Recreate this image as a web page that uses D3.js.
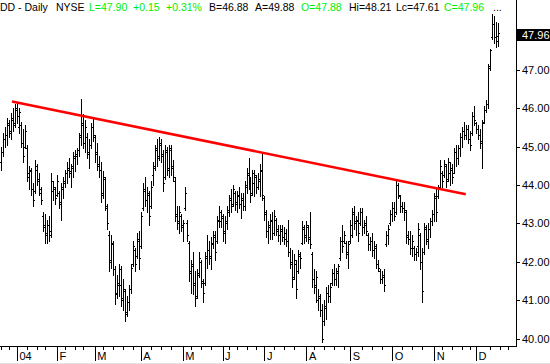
<!DOCTYPE html>
<html><head><meta charset="utf-8">
<script src="https://cdn.jsdelivr.net/npm/d3@7"></script>
<style>body{margin:0;background:#fff}svg{display:block}</style>
</head><body>
<svg id="c" width="550" height="364"></svg>
<script>
// ---- data (DD daily, Dec 19 2003 .. Dec 16 2004) ----
const open=[44.60,44.85,45.20,45.30,45.55,45.40,45.70,45.60,45.95,
45.50,45.55,45.10,45.00,44.95,44.20,44.35,43.90,43.85,44.40,
44.10,43.80,43.20,42.90,42.75,42.95,42.80,
43.85,43.90,
43.75,43.80,43.50,43.90,44.05,44.30,44.40,44.30,44.45,44.70,
44.75,44.90,45.30,45.55,45.10,
45.25,44.80,45.05,45.50,
45.25,44.85,44.50,44.40,43.80,44.15,43.40,42.70,42.05,42.45,
41.80,41.20,41.40,
41.40,41.00,41.25,40.70,40.95,41.30,
41.95,42.30,42.15,42.55,42.40,43.40,43.85,43.60,43.75,43.45,
44.25,44.50,44.90,44.75,45.05,44.75,44.20,44.85,44.45,
44.90,44.45,44.10,43.20,43.00,43.20,42.90,43.40,
43.00,
42.50,41.75,41.90,41.45,41.10,41.70,42.00,41.45,41.45,42.10,
42.30,42.10,42.45,42.65,42.55,43.05,
43.05,43.15,42.80,
43.00,43.30,43.60,43.50,43.80,43.50,43.70,43.50,43.60,43.45,
43.95,44.25,44.10,43.80,
44.05,44.20,43.95,44.10,44.35,
43.65,43.25,42.80,42.90,43.05,42.75,43.10,42.80,42.70,42.80,
42.65,
42.60,42.55,42.25,41.95,41.60,41.95,41.75,42.15,
42.50,42.85,42.70,42.90,42.65,42.20,41.55,41.35,
41.00,
41.05,40.75,40.45,40.80,41.20,41.10,41.45,41.70,41.55,41.70,
42.10,42.55,42.55,42.50,42.20,42.55,
42.70,43.25,43.05,
43.05,43.00,43.30,42.90,42.95,42.70,42.45,42.55,42.30,42.35,
41.95,41.75,41.55,41.60,
42.45,42.70,43.00,43.25,43.40,
43.30,44.00,43.70,43.45,43.40,43.30,42.70,42.60,42.35,42.35,
42.20,
42.40,42.70,42.00,42.25,42.85,42.55,42.85,43.05,
43.25,43.65,43.70,43.95,44.30,44.25,44.50,44.15,
44.30,
44.40,44.30,44.85,44.70,44.95,45.25,45.40,45.30,45.45,45.20,
45.35,45.80,
45.60,45.45,45.30,45.10,45.65,45.95,46.10,
47.10,47.85,48.20,47.85,47.88];
const high=[44.98,45.35,45.50,45.75,45.70,45.88,46.00,46.10,46.15,
46.00,45.65,45.45,45.55,45.05,44.50,44.45,44.05,44.65,44.55,
44.30,43.95,43.30,43.25,43.10,43.20,44.30,
44.10,43.95,
44.25,43.85,44.05,44.20,44.40,44.60,44.70,44.55,44.85,44.90,
44.95,45.35,46.25,45.85,45.70,
45.35,45.20,45.60,45.75,
45.30,45.10,44.75,44.60,44.35,44.20,43.50,42.80,42.70,42.55,
41.90,41.65,41.95,
41.90,41.55,41.30,41.10,41.40,41.95,
42.55,42.35,42.75,42.80,43.30,44.05,44.20,43.95,43.85,44.10,
44.60,45.05,45.20,45.25,45.20,44.90,45.05,45.00,45.05,
45.05,44.65,44.20,43.45,43.45,43.25,43.10,43.95,
43.10,
42.55,42.05,42.25,41.75,41.80,42.25,42.05,41.55,42.25,42.70,
42.55,42.65,42.80,42.80,43.20,43.45,
43.35,43.25,43.20,
43.45,43.75,43.90,44.00,43.85,43.85,43.95,43.80,43.80,44.10,
44.45,44.70,44.20,44.40,
44.40,44.25,44.30,44.55,44.80,
43.70,43.35,43.05,43.25,43.30,43.35,43.15,42.95,42.95,42.95,
42.90,
42.85,43.10,42.35,42.30,42.20,42.05,42.30,42.25,
43.05,42.95,43.05,42.95,43.30,42.25,41.80,41.75,
41.30,
41.15,40.90,41.00,41.35,41.40,41.45,41.80,41.95,41.85,41.95,
42.65,42.95,42.80,42.55,42.55,43.10,
43.40,43.45,43.20,
43.30,43.40,43.40,43.10,43.20,42.75,42.65,42.75,42.55,42.45,
42.05,41.80,41.75,41.80,
42.80,42.95,43.35,43.55,43.55,
44.10,44.05,43.75,43.55,43.55,43.35,42.80,42.80,42.70,42.40,
42.35,
43.00,42.75,42.35,43.00,42.95,43.00,43.15,43.35,
43.80,43.95,44.00,44.65,44.35,44.65,44.55,44.70,
44.60,
44.55,44.95,45.05,45.05,45.35,45.50,45.65,45.55,45.55,45.40,
45.90,46.05,
45.65,45.55,45.45,45.70,46.05,46.20,47.15,
47.55,48.45,48.40,48.25,48.21];
const low=[44.40,44.75,45.00,45.05,45.25,45.20,45.40,45.50,45.60,
45.35,45.00,44.60,44.95,44.10,43.90,43.75,43.45,43.80,44.00,
43.75,43.50,42.80,42.50,42.50,42.55,42.65,
43.60,43.50,
43.70,43.40,43.10,43.65,43.95,44.05,44.20,43.95,44.20,44.35,
44.55,44.75,45.05,44.95,44.85,
44.70,44.45,44.95,45.15,
44.60,44.40,44.20,43.55,43.65,43.35,42.85,41.75,41.85,41.65,
40.90,41.05,41.10,
40.85,40.75,40.45,40.60,40.75,41.20,
41.90,41.75,42.10,41.80,42.35,43.35,43.45,43.30,42.95,43.40,
44.00,44.40,44.50,44.65,44.60,43.85,44.15,44.25,44.20,
44.25,44.10,43.05,42.85,42.75,42.80,42.55,43.35,
42.55,
41.50,41.20,41.15,40.85,41.05,41.60,41.35,40.95,41.40,41.85,
41.95,41.80,42.35,42.05,42.50,42.90,
42.90,42.55,42.50,
42.85,43.20,43.30,43.45,43.35,43.30,43.40,43.15,43.35,43.35,
43.80,43.90,43.55,43.75,
43.70,43.80,43.90,43.70,43.60,
43.10,42.65,42.50,42.60,42.60,42.70,42.70,42.55,42.45,42.55,
42.45,
42.40,42.15,41.85,41.35,41.55,41.05,41.70,41.85,
42.45,42.50,42.55,42.50,42.35,41.35,41.20,40.95,
40.75,
40.60,39.90,40.35,40.50,40.95,40.95,41.40,41.40,41.40,41.35,
42.05,42.25,42.50,42.10,41.85,42.50,
42.65,42.85,42.70,
42.55,42.95,42.70,42.75,42.70,42.30,42.30,42.15,42.10,41.85,
41.75,41.45,41.45,41.25,
42.40,42.45,42.95,43.05,43.10,
43.25,43.65,43.30,43.30,43.10,42.50,42.45,42.20,42.15,42.05,
42.05,
42.15,41.80,40.95,42.20,42.45,42.35,42.65,42.95,
43.05,43.05,43.65,43.90,43.95,44.20,43.95,44.10,
44.00,
44.05,44.30,44.50,44.55,44.75,45.00,45.20,45.20,45.10,44.90,
45.30,45.55,
45.35,45.20,44.95,44.45,45.60,45.90,46.00,
47.00,47.80,47.70,47.60,47.61];
const close=[44.85,45.20,45.30,45.60,45.35,45.75,45.55,46.00,45.80,
45.90,45.10,44.75,45.40,44.30,44.40,43.90,43.60,44.50,44.15,
43.90,43.60,42.95,42.70,42.95,42.70,44.10,
43.95,43.65,
44.10,43.55,43.95,44.10,44.30,44.45,44.35,44.50,44.75,44.80,
44.90,45.25,45.60,45.10,45.50,
44.85,45.05,45.50,45.30,
44.80,44.55,44.40,43.75,44.20,43.45,43.00,42.00,42.50,41.80,
41.15,41.45,41.80,
41.05,41.30,40.65,40.95,41.30,41.85,
42.40,41.95,42.60,42.10,43.20,43.90,43.60,43.80,43.20,43.95,
44.45,44.95,44.70,45.10,44.80,44.05,44.90,44.40,44.95,
44.50,44.20,43.25,43.05,43.30,42.95,43.00,43.80,
42.70,
41.70,41.95,41.40,41.05,41.65,42.10,41.50,41.20,42.15,42.30,
42.15,42.50,42.70,42.25,43.10,43.30,
43.20,42.75,43.05,
43.35,43.65,43.45,43.90,43.55,43.75,43.50,43.65,43.45,44.00,
44.30,44.10,43.75,44.30,
44.25,43.95,44.15,44.40,43.75,
43.30,42.80,42.95,43.10,42.75,43.20,42.85,42.70,42.85,42.65,
42.75,
42.55,42.25,42.00,41.55,42.05,41.30,42.20,42.10,
42.90,42.65,42.95,42.60,42.45,41.55,41.40,41.60,
41.10,
40.75,40.00,40.85,41.20,41.10,41.35,41.70,41.55,41.75,41.90,
42.55,42.40,42.70,42.25,42.45,42.95,
43.30,43.00,43.10,
42.75,43.30,42.90,43.00,42.80,42.45,42.55,42.30,42.40,41.95,
41.85,41.55,41.65,41.40,
42.70,42.85,43.25,43.40,43.20,
44.00,43.75,43.45,43.40,43.35,42.65,42.60,42.35,42.55,42.20,
42.25,
42.85,42.00,41.25,42.90,42.60,42.85,43.05,43.25,
43.70,43.30,43.90,44.50,44.10,44.55,44.10,44.60,
44.45,
44.20,44.85,44.70,44.95,45.25,45.40,45.30,45.45,45.20,45.05,
45.80,45.70,
45.45,45.30,45.15,45.60,45.95,46.10,47.05,
47.50,48.20,47.85,47.75,47.96];

const firstDay="2003-12-19";
const holidays=["2003-12-25","2004-01-01","2004-01-19","2004-02-16","2004-04-09",
  "2004-05-31","2004-06-11","2004-07-05","2004-09-06","2004-11-25","2004-12-24"];
const monthLabels=["04","F","M","A","M","J","J","A","S","O","N","D"];
const yTicks=[40,41,42,43,44,45,46,47,48];
const yLabels=[40,41,42,43,44,45,46,47];
const trend=[{i:5.5,p:46.17},{i:232.85,p:43.76}];
const headerText=["DD - Daily","NYSE","L=47.90","+0.15","+0.31%","B=46.88","A=49.88","O=47.88","Hi=48.21","Lc=47.61","C=47.96","..."];
const headerUp=[false,false,true,true,true,false,false,true,false,false,true,false];
const lastPrice=47.96;

// ---- layout ----
const svg=d3.select("#c");
const W=550,H=364, axisX=516, axisY=346;
const headerX=[0,56,89,133,166,209,255,301,349,396,444,493];
const font="'Liberation Sans', Arial, sans-serif";
const green="#00ee00";

const x=d3.scaleLinear().domain([0,close.length-1]).range([1,498]);
const y=d3.scaleLinear().domain([40,47]).range([338.6,69.7]);

// trading calendar
const parse=d3.utcParse("%Y-%m-%d"), fmt=d3.utcFormat("%Y-%m-%d");
const hol=new Set(holidays);
const dates=[]; let d=parse(firstDay);
while(dates.length<262){const wd=d.getUTCDay(); if(wd!==0&&wd!==6&&!hol.has(fmt(d))) dates.push(d); d=d3.utcDay.offset(d,1);}
const maxIdx=d3.range(dates.length).filter(i=>x(i)<axisX);
const monthIdx=maxIdx.filter(i=>i>0&&dates[i].getUTCMonth()!==dates[i-1].getUTCMonth());
const weekIdx=maxIdx.filter(i=>i+1<dates.length&&dates[i+1].getUTCDay()<dates[i].getUTCDay()&&!monthIdx.some(m=>Math.abs(x(m)-x(i))<4));

// ---- bars ----
const data=close.map((c,i)=>({i,o:open[i],h:high[i],l:low[i],c}));
const g=svg.append("g").attr("shape-rendering","crispEdges").attr("fill","#000");
g.selectAll("rect.v").data(data).join("rect").attr("class","v")
 .attr("x",d=>Math.round(x(d.i))).attr("width",1)
 .attr("y",d=>Math.round(y(d.h))).attr("height",d=>Math.round(y(d.l))-Math.round(y(d.h))+1);
g.selectAll("rect.o").data(data).join("rect").attr("class","o")
 .attr("x",d=>Math.round(x(d.i))-1).attr("width",1)
 .attr("y",d=>Math.round(y(d.o))).attr("height",1);
g.selectAll("rect.c").data(data).join("rect").attr("class","c")
 .attr("x",d=>Math.round(x(d.i))+1).attr("width",1)
 .attr("y",d=>Math.round(y(d.c))).attr("height",1);

// ---- trendline ----
svg.append("path").datum(trend)
 .attr("d",d3.line().x(d=>x(d.i)).y(d=>y(d.p)))
 .attr("stroke","#ff0000").attr("stroke-width",2.6).attr("fill","none");

// ---- y axis ----
svg.append("rect").attr("x",axisX).attr("y",0).attr("width",1).attr("height",axisY+1).attr("fill","#000").attr("shape-rendering","crispEdges");
const ya=svg.append("g").attr("transform",`translate(${axisX},0)`)
 .call(d3.axisRight(y).tickValues(yTicks).tickSize(4).tickPadding(2)
   .tickFormat(v=>yLabels.includes(v)?d3.format(".2f")(v):""));
ya.select(".domain").remove();
ya.selectAll("line").attr("stroke","#000").attr("shape-rendering","crispEdges");
ya.selectAll("text").attr("font-family",font).attr("font-size","11px").attr("fill","#000");

// ---- x axis ----
svg.append("rect").attr("x",0).attr("y",axisY).attr("width",axisX+1).attr("height",1).attr("fill","#000").attr("shape-rendering","crispEdges");
const xw=svg.append("g").attr("transform",`translate(0,${axisY+1})`)
 .call(d3.axisBottom(x).tickValues(weekIdx).tickSize(3).tickFormat(""));
xw.select(".domain").remove();
xw.selectAll("line").attr("stroke","#000").attr("shape-rendering","crispEdges");
const xm=svg.append("g").attr("transform",`translate(0,${axisY+1})`)
 .call(d3.axisBottom(x).tickValues(monthIdx).tickSize(14).tickFormat(i=>monthLabels[dates[i].getUTCMonth()]));
xm.select(".domain").remove();
xm.selectAll("line").attr("stroke","#000").attr("shape-rendering","crispEdges");
xm.selectAll("text").attr("text-anchor","start").attr("x",2).attr("y",5).attr("dy","0.75em")
 .attr("font-family",font).attr("font-size","11px").attr("fill","#000");

// faint bottom border
svg.append("rect").attr("x",0).attr("y",363).attr("width",W).attr("height",1).attr("fill","#e2e2e2");

// ---- last price box ----
const ly=y(lastPrice);
svg.append("rect").attr("x",axisX).attr("y",Math.round(ly)-4).attr("width",W-axisX).attr("height",12).attr("fill","#000");
svg.append("text").attr("x",axisX+6).attr("y",Math.round(ly)+6).text(d3.format(".2f")(lastPrice))
 .attr("font-family",font).attr("font-size","11px").attr("fill","#fff");

// ---- header ----
svg.append("g").selectAll("text").data(headerText).join("text")
 .attr("x",(t,i)=>headerX[i]).attr("y",11)
 .attr("font-family",font).attr("font-size","10.5px")
 .attr("fill",(t,i)=>headerUp[i]?green:"#000").text(t=>t);
</script>
</body></html>
